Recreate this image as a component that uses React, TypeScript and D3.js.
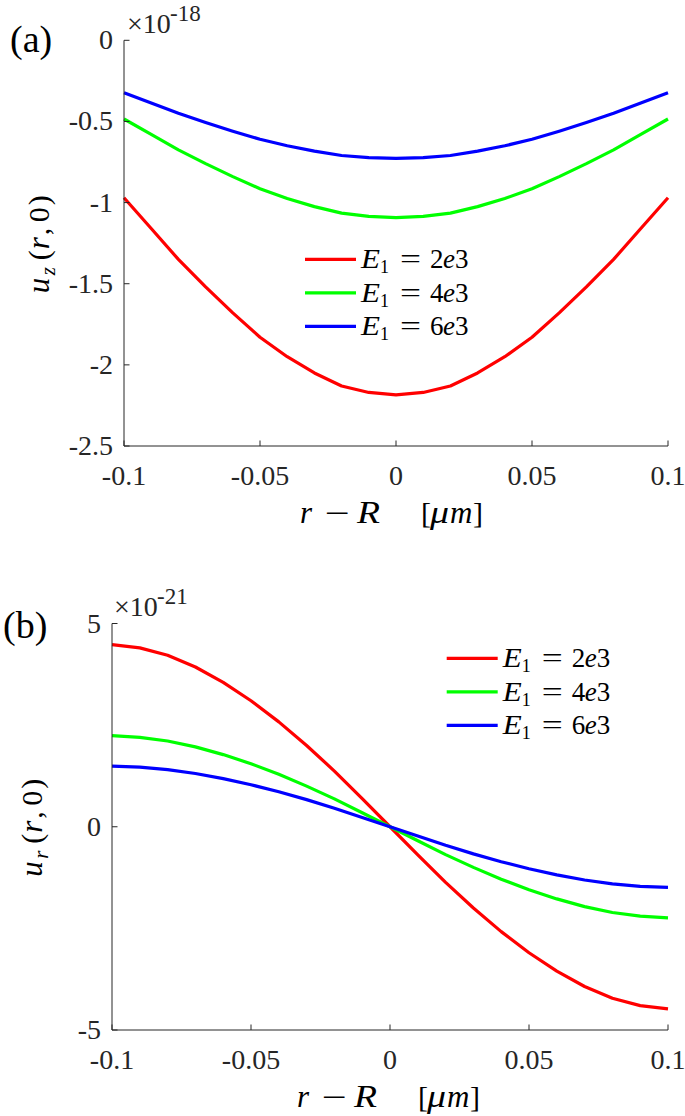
import React from 'react';
import * as d3 from 'd3';

// r - R positions (um)
const xs = [-0.1, -0.09, -0.08, -0.07, -0.06, -0.05, -0.04, -0.03, -0.02, -0.01, 0,
  0.01, 0.02, 0.03, 0.04, 0.05, 0.06, 0.07, 0.08, 0.09, 0.1];

// panel (a): u_z(r,0) x 1e-18
const uzE2 = [-0.97, -1.16, -1.35, -1.52, -1.68, -1.83, -1.95, -2.05, -2.13, -2.17, -2.185,
  -2.17, -2.13, -2.05, -1.95, -1.83, -1.68, -1.52, -1.35, -1.16, -0.97];
const uzE4 = [-0.485, -0.58, -0.675, -0.76, -0.84, -0.915, -0.975, -1.025, -1.065, -1.085, -1.093,
  -1.085, -1.065, -1.025, -0.975, -0.915, -0.84, -0.76, -0.675, -0.58, -0.485];
const uzE6 = [-0.323, -0.387, -0.45, -0.507, -0.56, -0.61, -0.65, -0.683, -0.71, -0.723, -0.728,
  -0.723, -0.71, -0.683, -0.65, -0.61, -0.56, -0.507, -0.45, -0.387, -0.323];

// panel (b): u_r(r,0) x 1e-21
const urE2 = [4.48, 4.4, 4.22, 3.93, 3.55, 3.1, 2.58, 2.0, 1.37, 0.69, 0,
  -0.69, -1.37, -2.0, -2.58, -3.1, -3.55, -3.93, -4.22, -4.4, -4.48];
const urE4 = [2.24, 2.2, 2.11, 1.965, 1.775, 1.55, 1.29, 1.0, 0.685, 0.345, 0,
  -0.345, -0.685, -1.0, -1.29, -1.55, -1.775, -1.965, -2.11, -2.2, -2.24];
const urE6 = [1.493, 1.467, 1.407, 1.31, 1.183, 1.033, 0.86, 0.667, 0.457, 0.23, 0,
  -0.23, -0.457, -0.667, -0.86, -1.033, -1.183, -1.31, -1.407, -1.467, -1.493];

const xTicks = [-0.1, -0.05, 0, 0.05, 0.1];
const xTickLabels = ['-0.1', '-0.05', '0', '0.05', '0.1'];
const uzTicks = [0, -0.5, -1, -1.5, -2, -2.5];
const uzTickLabels = ['0', '-0.5', '-1', '-1.5', '-2', '-2.5'];
const urTicks = [5, 0, -5];
const urTickLabels = ['5', '0', '-5'];

const legendNames = ['2', '4', '6'];
const colors = ['#ff0000', '#00ff00', '#0000ff'];

const FONT = "'Liberation Serif', 'Times New Roman', Times, 'DejaVu Serif', serif";
const AX = '#262626';

// one piece of math text, placed by hand
const M = ({x, y, t, size = 30, it = false, len}: any) => (
  <text x={x} y={y} style={{fontFamily: FONT, fontSize: size, fontStyle: it ? 'italic' : 'normal'}} fill="#000"
        textLength={len} lengthAdjust={len ? 'spacingAndGlyphs' : undefined}>{t}</text>
);

const T = ({x, y, t, size = 28, anchor = 'start'}: any) => (
  <text x={x} y={y} textAnchor={anchor} style={{fontFamily: FONT, fontSize: size}} fill={AX}>{t}</text>
);

const XLabel = ({x0, y}: any) => (
  <g>
    <M x={x0} y={y} t="r" it size={31}/>
    <M x={x0 + 25} y={y} t="−" len={25}/>
    <M x={x0 + 57} y={y} t="R" it size={32} len={23}/>
    <M x={x0 + 121} y={y} t="["/>
    <M x={x0 + 130} y={y} t="μ" it size={32} len={19}/>
    <M x={x0 + 150} y={y} t="m" it size={31}/>
    <M x={x0 + 173} y={y} t="]"/>
  </g>
);

const YLabel = ({bx, cy, sub}: any) => (
  <g transform={`translate(${bx},${cy}) rotate(-90)`}>
    <M x={-50} y={0} t="u" it size={31}/>
    <M x={-32} y={6} t={sub} it size={21}/>
    <M x={-17} y={0} t="("/>
    <M x={-6} y={0} t="r" it size={31}/>
    <M x={8} y={0} t=","/>
    <M x={21} y={0} t="0"/>
    <M x={38} y={0} t=")"/>
  </g>
);

const Panel = ({left, right, top, bottom, yDomain, yTicks, yTickLabels, series, tag, tagX, tagY, expo, expoX, expoY,
                 sub, ylabelX, legX, legY, xlabelShift}: any) => {
  const x = d3.scaleLinear().domain([-0.1, 0.1]).range([left, right]);
  const y = d3.scaleLinear().domain(yDomain).range([bottom, top]);
  const line = d3.line<number>().x((_, i) => x(xs[i])).y(d => y(d));
  const tl = 5.5;
  return (
    <g>
      {series.map((s: number[], i: number) => (
        <path key={i} d={line(s) || ''} fill="none" stroke={colors[i]} strokeWidth={3.2} strokeLinejoin="round"/>
      ))}
      <line x1={left} x2={left} y1={top} y2={bottom} stroke={AX} strokeWidth={1}/>
      <line x1={left} x2={right} y1={bottom} y2={bottom} stroke={AX} strokeWidth={1}/>
      {xTicks.map((t, i) => (
        <g key={i}>
          <line x1={x(t)} x2={x(t)} y1={bottom} y2={bottom - tl} stroke={AX}/>
          <T x={x(t)} y={bottom + 39} t={xTickLabels[i]} anchor="middle"/>
        </g>
      ))}
      {yTicks.map((t: number, i: number) => (
        <g key={i}>
          <line x1={left} x2={left + tl} y1={y(t)} y2={y(t)} stroke={AX}/>
          <T x={left - 11} y={y(t) + 9} t={yTickLabels[i]} anchor="end"/>
        </g>
      ))}
      <T x={expoX} y={expoY} t="×10" size={28}/>
      <T x={expoX + 43} y={expoY - 12} t={expo} size={23}/>
      <text x={tagX} y={tagY} style={{fontFamily: FONT, fontSize: 38}} fill="#000">{tag}</text>
      <YLabel bx={ylabelX} cy={(top + bottom) / 2} sub={sub}/>
      <XLabel x0={(left + right) / 2 - 92 + xlabelShift} y={bottom + 77}/>
      {legendNames.map((n, i) => {
        const ly = legY + i * 33.5;
        return (
          <g key={i}>
            <line x1={legX} x2={legX + 51} y1={ly} y2={ly} stroke={colors[i]} strokeWidth={3.2}/>
            <M x={legX + 56} y={ly + 9} t="E" it size={27} len={19}/>
            <M x={legX + 75} y={ly + 14} t="1" size={18}/>
            <M x={legX + 95} y={ly + 9} t="=" size={27} len={21}/>
            <M x={legX + 125} y={ly + 9} t={n} size={27}/>
            <M x={legX + 138} y={ly + 9} t="e" it size={27}/>
            <M x={legX + 150} y={ly + 9} t="3" size={27}/>
          </g>
        );
      })}
    </g>
  );
};

export default function App() {
  return (
    <svg width={685} height={1116} style={{position: 'absolute', left: 0, top: 0, background: '#fff'}}>
      <rect width={685} height={1116} fill="#fff"/>
      <Panel left={124} right={668} top={40.3} bottom={446} yDomain={[-2.5, 0]}
             yTicks={uzTicks} yTickLabels={uzTickLabels} series={[uzE2, uzE4, uzE6]}
             tag="(a)" tagX={10} tagY={52} expo="-18" expoX={127} expoY={33}
             sub="z" ylabelX={49} legX={305} legY={259.3} xlabelShift={-4}/>
      <Panel left={112} right={668} top={623.5} bottom={1030} yDomain={[-5, 5]}
             yTicks={urTicks} yTickLabels={urTickLabels} series={[urE2, urE4, urE6]}
             tag="(b)" tagX={3} tagY={638} expo="-21" expoX={114} expoY={616}
             sub="r" ylabelX={42} legX={446.7} legY={658.3} xlabelShift={-1}/>
    </svg>
  );
}
